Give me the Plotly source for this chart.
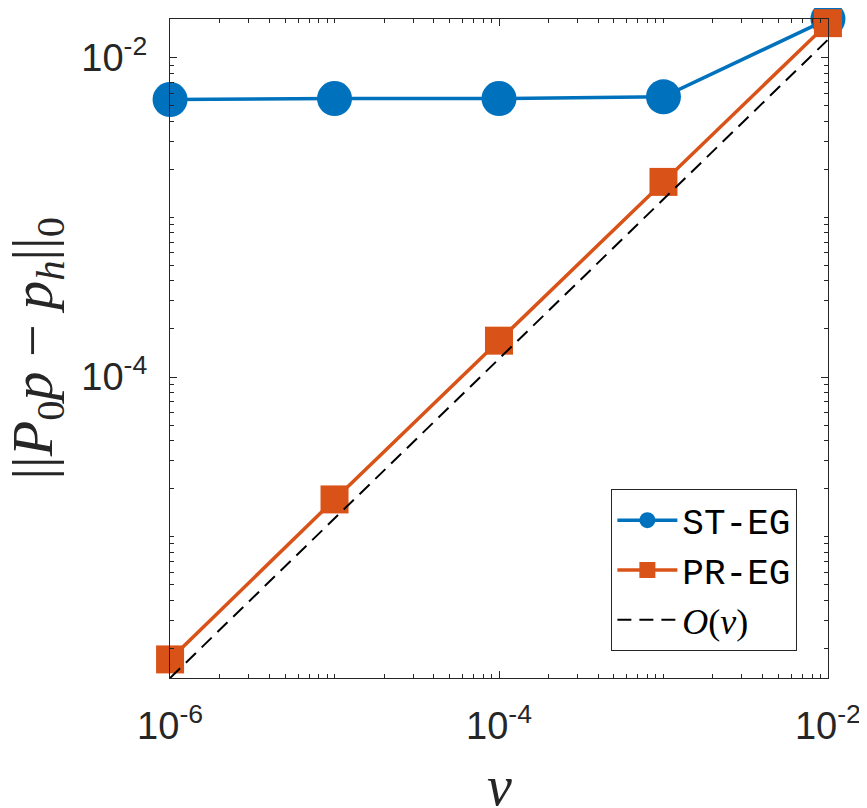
import plotly.graph_objects as go

# viscosity values and errors
nu = [1e-6, 1e-5, 1e-4, 1e-3, 1e-2]
st_eg = [5.48e-3, 5.56e-3, 5.56e-3, 5.70e-3, 1.75e-2]
pr_eg = [1.70e-6, 1.71e-5, 1.69e-4, 1.67e-3, 1.65e-2]

# O(nu) reference line
nu_ref = [1e-6, 1e-2]
ref = [1.3e-6, 1.3e-2]

x_ticks = [1e-6, 1e-4, 1e-2]
x_labels = ['10<sup>-6</sup>', '10<sup>-4</sup>', '10<sup>-2</sup>']
y_ticks = [1e-4, 1e-2]
y_labels = ['10<sup>-4</sup>', '10<sup>-2</sup>']

blue = '#0072BD'
orange = '#D95319'
axcol = '#262626'
mono = 'Liberation Mono'

fig = go.Figure()
fig.add_trace(go.Scatter(
    x=nu, y=st_eg, mode='lines+markers', name='ST-EG',
    line=dict(color=blue, width=3.5),
    marker=dict(symbol='circle', size=35, color=blue),
    cliponaxis=False))
fig.add_trace(go.Scatter(
    x=nu, y=pr_eg, mode='lines+markers', name='PR-EG',
    line=dict(color=orange, width=3.5),
    marker=dict(symbol='square', size=28, color=orange),
    cliponaxis=False))
fig.add_trace(go.Scatter(
    x=nu_ref, y=ref, mode='lines',
    name='<span style="font-family:Liberation Serif"><i>O</i>(<i>ν</i>)</span>',
    line=dict(color='black', width=2, dash='14px,8px')))

axis_common = dict(
    type='log', showgrid=False, zeroline=False, automargin=False,
    showline=True, linecolor=axcol, linewidth=1.3, mirror='allticks',
    ticks='inside', ticklen=7, tickwidth=1.3, tickcolor=axcol,
    tickfont=dict(family='Liberation Sans', size=38, color=axcol),
    minor=dict(ticks='inside', ticklen=4, tickwidth=1, tickcolor=axcol, dtick='D1'),
)

fig.update_xaxes(
    **axis_common, range=[-6.0004, -1.9996], tickmode='array',
    tickvals=x_ticks, ticktext=x_labels, ticklabelstandoff=14)
fig.update_yaxes(
    **axis_common, range=[-5.886, -1.7565], tickmode='array',
    tickvals=y_ticks, ticktext=y_labels, ticklabelstandoff=14)

# axis labels as annotations so they sit where the original puts them
fig.add_annotation(
    text='||<i>P</i><sub>0</sub><i>p</i> − <i>p</i><sub><i>h</i></sub>||<sub>0</sub>',
    xref='paper', yref='paper', x=0, y=0.5, xshift=-134,
    xanchor='center', yanchor='middle', textangle=-90, showarrow=False,
    font=dict(family='Liberation Serif', size=58, color=axcol))
fig.add_annotation(
    text='<i>ν</i>',
    xref='paper', yref='paper', x=0.5, y=0, yshift=-108,
    xanchor='center', yanchor='middle', showarrow=False,
    font=dict(family='Liberation Serif', size=56, color=axcol))

# the page body adds an 8px offset on the left and top
fig.update_layout(
    width=859, height=800,
    margin=dict(l=162, r=39, t=11, b=130),
    plot_bgcolor='white', paper_bgcolor='white',
    legend=dict(
        x=0.953, xanchor='right', y=0.041, yanchor='bottom',
        bgcolor='white', bordercolor=axcol, borderwidth=1.3,
        font=dict(family=mono, size=36, color='black'),
        itemsizing='trace', itemwidth=60, tracegroupgap=4),
)

fig.write_html('out.html')
